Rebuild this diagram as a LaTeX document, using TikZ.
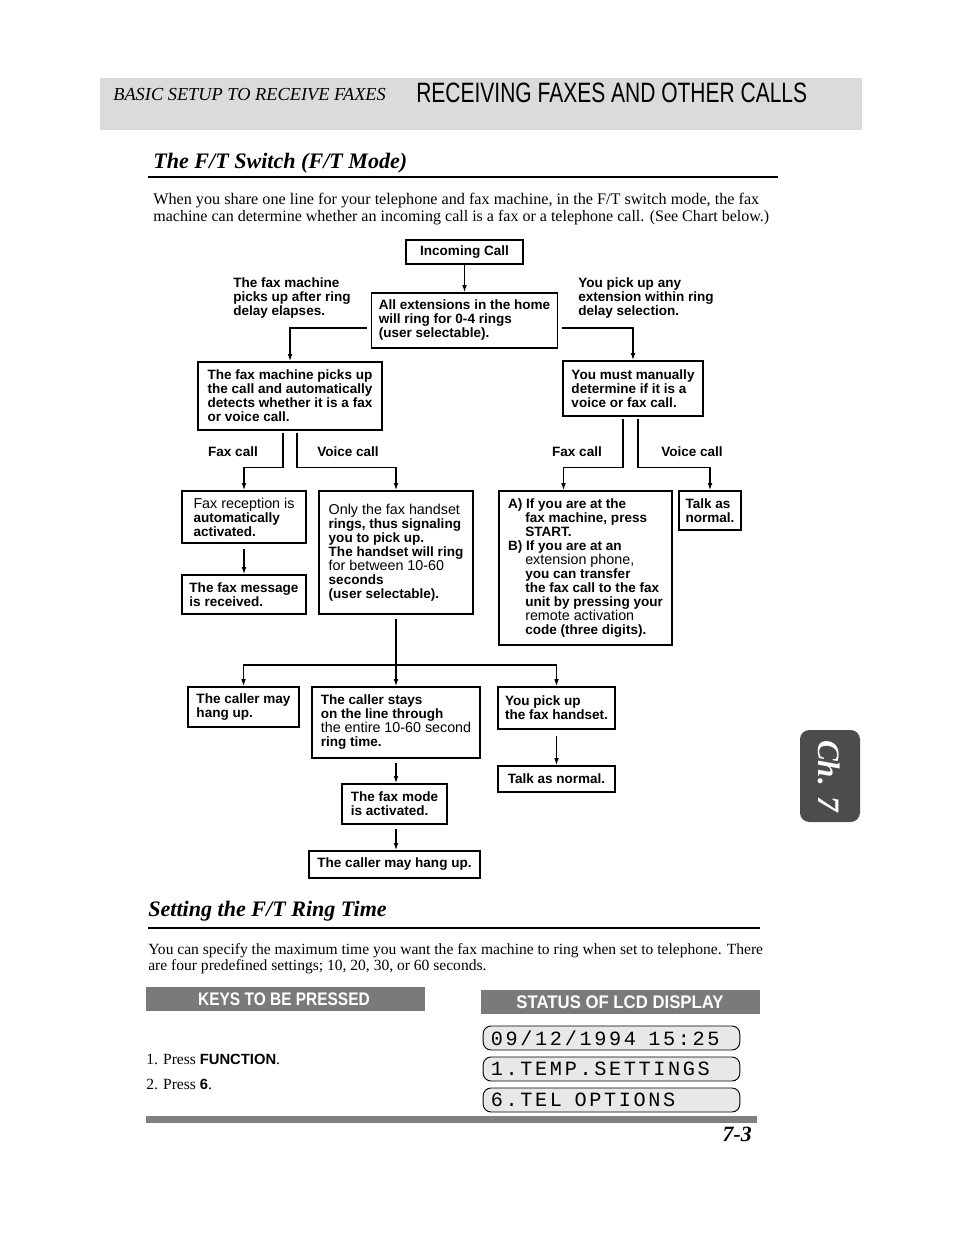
\documentclass[tikz,border=0pt]{standalone}
\usepackage{fontspec}
\setmainfont{Liberation Serif}
\newfontfamily\chartfont{Liberation Sans}
\newfontfamily\lcdfont[LetterSpace=13]{Liberation Mono}
\usetikzlibrary{arrows.meta,positioning,calc}
\newcommand{\pxu}{0.643pt}
\newcommand{\smallln}{\mdseries\fontsize{9.2}{9}\selectfont}

\begin{document}
\begin{tikzpicture}[
    x=\pxu, y=-\pxu,
    every node/.style={inner sep=0pt},
    box/.style={draw, line width=1.1pt, align=left, inner xsep=3pt,
        font=\chartfont\bfseries\fontsize{8.7}{9}\selectfont},
    sz/.style 2 args={minimum width=#1*\pxu, minimum height=#2*\pxu},
    lbl/.style={align=left, font=\chartfont\bfseries\fontsize{8.7}{9}\selectfont},
    body/.style={anchor=base west, font=\fontsize{10}{12}\selectfont},
    head/.style={anchor=base west, font=\bfseries\itshape\fontsize{14.2}{16}\selectfont},
    bar/.style={fill=black!52},
    bartext/.style={text=white, font=\chartfont\bfseries\fontsize{11.7}{13}\selectfont},
    lcd/.style={draw, rounded corners=5pt, fill=black!9, line width=0.6pt,
        minimum height=24*\pxu, inner xsep=5pt, text width=155pt, align=left,
        font=\lcdfont\fontsize{13}{14}\selectfont},
    arrow/.style={-{Latex[length=4.5pt,width=3pt]}, line width=0.75pt},
    link/.style={line width=0.75pt}
]
\useasboundingbox (0,0) rectangle (954,1235);
\fill[white] (0,0) rectangle (954,1235);

% page header
\fill[black!14] (100,78) rectangle (862,130);
\node[anchor=base west, font=\itshape\fontsize{11.8}{13}\selectfont] (hdl) at (113,101) {BASIC SETUP TO RECEIVE FAXES};
\node[anchor=base west] (hdr) at (416,103) {\scalebox{0.75}[1]{\chartfont\fontsize{18}{20}\selectfont RECEIVING FAXES AND OTHER CALLS}};

% section 1
\node[head] (sec1) at (153,169) {The F/T Switch (F/T Mode)};
\draw[line width=1.1pt] (148,177) -- (778,177);
\node[body, font=\fontsize{10.4}{12}\selectfont] (p1a) at (153,205) {When you share one line for your telephone and fax machine, in the F/T switch mode, the fax};
\node[body, font=\fontsize{10.3}{12}\selectfont] (p1b) at (153,222) {machine can determine whether an incoming call is a fax or a telephone call. (See Chart below.)};

% flow chart
\node[box, sz={117}{24}, align=center] (inc) at (464.5,252) {Incoming Call};
\node[box, sz={186}{55}] (ext) at (464.5,320.5) {All extensions in the home\\will ring for 0-4 rings\\(user selectable).};
\node[lbl, anchor=north west] (lfax) at (233,277) {The fax machine\\picks up after ring\\delay elapses.};
\node[lbl, anchor=north west] (lyou) at (578,277) {You pick up any\\extension within ring\\delay selection.};

\node[box, sz={184}{68}] (fmp) at (290,396) {The fax machine picks up\\the call and automatically\\detects whether it is a fax\\or voice call.};
\node[box, sz={140}{55}] (man) at (633,388.5) {You must manually\\determine if it is a\\voice or fax call.};

\node[lbl] (fc1) at (233,452) {Fax call};
\node[lbl] (vc1) at (348,452) {Voice call};
\node[lbl] (fc2) at (577,452) {Fax call};
\node[lbl] (vc2) at (692,452) {Voice call};

\node[box, sz={124}{52}] (frx) at (244,517) {{\smallln Fax reception is}\\automatically\\activated.};
\node[box, sz={124}{39}] (fmsg) at (244,594.5) {The fax message\\is received.};
\node[box, sz={154}{123}] (only) at (396,552.5) {{\smallln Only the fax handset}\\rings, thus signaling\\you to pick up.\\The handset will ring\\{\smallln for between 10-60}\\seconds\\(user selectable).};
\node[box, sz={173}{154}] (ab) at (585.5,568) {A) If you are at the\\\hspace*{11pt}fax machine, press\\\hspace*{11pt}START.\\B) If you are at an\\\hspace*{11pt}{\smallln extension phone,}\\\hspace*{11pt}you can transfer\\\hspace*{11pt}the fax call to the fax\\\hspace*{11pt}unit by pressing your\\\hspace*{11pt}{\smallln remote activation}\\\hspace*{11pt}code (three digits).};
\node[box, sz={62}{39}] (tan1) at (710,510.5) {Talk as\\normal.};

\coordinate (bus) at (396,665);
\node[box, sz={111}{40}] (hang1) at (243.5,707) {The caller may\\hang up.};
\node[box, sz={168}{71}] (stays) at (396,722.5) {The caller stays\\on the line through\\{\smallln the entire 10-60 second}\\ring time.};
\node[box, sz={117}{42}] (pick) at (556.5,708) {You pick up\\the fax handset.};
\node[box, sz={117}{26}] (tan2) at (556.5,779) {Talk as normal.};
\node[box, sz={105}{40}] (mode) at (394.5,804) {The fax mode\\is activated.};
\node[box, sz={171}{27}] (hang2) at (394.5,864.5) {The caller may hang up.};

\draw[arrow] (inc) -- (ext);
\draw[arrow] ($(ext.west)+(-4,7.5)$) -| (fmp.north);
\draw[arrow] ($(ext.east)+(4,7.5)$) -| (man.north);
\draw[arrow] ($(fmp.south)+(-7,2)$) -- ++(0,35) -| (frx.north);
\draw[arrow] ($(fmp.south)+(7,2)$) -- ++(0,35) -| (only.north);
\draw[arrow] ($(man.south)+(-10,2)$) -- ++(0,49) -| ($(ab.north)+(-22,0)$);
\draw[arrow] ($(man.south)+(5,2)$) -- ++(0,49) -| (tan1.north);
\draw[arrow] ($(frx.south)+(0,5)$) -- (fmsg.north);
\draw[link] ($(only.south)+(0,4)$) -- (bus);
\draw[arrow] (bus) -| (hang1.north);
\draw[arrow] (bus) -| (pick.north);
\draw[arrow] (bus) -- (stays.north);
\draw[arrow] ($(stays.south)+(0,4)$) -- (stays.south |- mode.north);
\draw[arrow] ($(stays.south |- mode.south)+(0,4)$) -- (stays.south |- hang2.north);
\draw[arrow] ($(pick.south)+(0,6)$) -- (tan2.north);

% section 2
\node[head] (sec2) at (148,916) {Setting the F/T Ring Time};
\draw[line width=1.1pt] (148,928) -- (760,928);
\node[body] (p2a) at (148,954) {You can specify the maximum time you want the fax machine to ring when set to telephone. There};
\node[body] (p2b) at (148,970) {are four predefined settings; 10, 20, 30, or 60 seconds.};

\fill[bar] (146,987) rectangle (425,1011);
\fill[bar] (481,990) rectangle (760,1014);
\node[bartext] (keys) at (284,999) {\scalebox{0.85}[1]{KEYS TO BE PRESSED}};
\node[bartext] (stat) at (620,1002) {\scalebox{0.92}[1]{STATUS OF LCD DISPLAY}};

\node[body] (k1) at (146,1064) {1. Press {\chartfont\bfseries\fontsize{9.5}{11}\selectfont FUNCTION}.};
\node[body] (k2) at (146,1089) {2. Press {\chartfont\bfseries\fontsize{9.5}{11}\selectfont 6}.};

\node[lcd] (lcd1) at (611.5,1038) {09/12/1994\hspace{8pt}15:25};
\node[lcd] (lcd2) at (611.5,1069) {1.TEMP.SETTINGS};
\node[lcd] (lcd3) at (611.5,1100) {6.TEL\hspace{8pt}OPTIONS};

% page footer
\fill[black!50] (146,1116) rectangle (757,1123);
\node[anchor=base east, font=\bfseries\itshape\fontsize{14}{16}\selectfont] (pg) at (752,1141) {7-3};

% chapter tab
\fill[black!70, rounded corners=6pt] (800,730) rectangle (860,822);
\node[rotate=-90, text=white, font=\bfseries\itshape\fontsize{20}{22}\selectfont] (tab) at (829,776) {Ch. 7};
\end{tikzpicture}
\end{document}
